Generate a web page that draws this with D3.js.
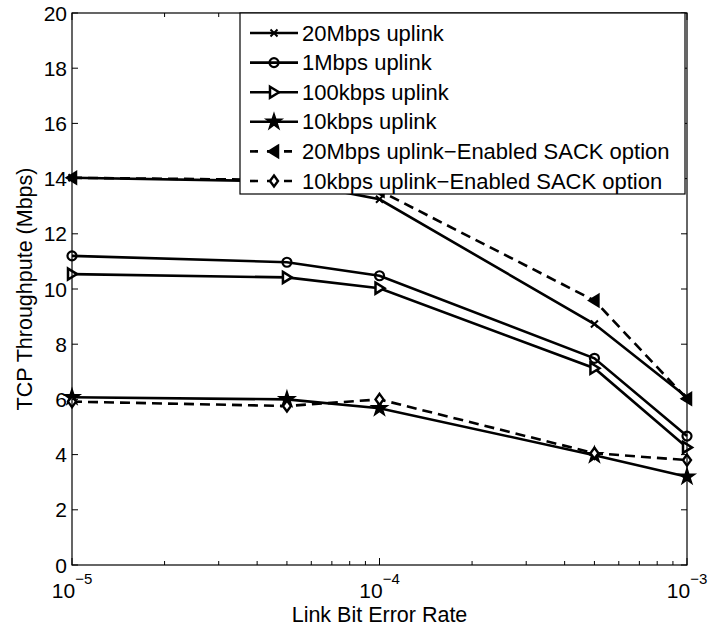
<!DOCTYPE html>
<html>
<head>
<meta charset="utf-8">
<script src="https://cdn.jsdelivr.net/npm/d3@7"></script>
<style>
    body { margin: 0; background: #fff; }
    text { font-family: "Liberation Sans", Arial, sans-serif; fill: #000; }
</style>
</head>
<body>
<div id="chart"></div>
<script>
// Link bit error rates (x axis)
var berValues = [1e-5, 5e-5, 1e-4, 5e-4, 1e-3];

// TCP throughput (Mbps) per series
var up20M = [14.03, 13.9, 13.25, 8.73, 6.08];
var up1M = [11.2, 10.97, 10.48, 7.49, 4.67];
var up100k = [10.54, 10.42, 10.03, 7.13, 4.26];
var up10k = [6.08, 6.0, 5.68, 3.98, 3.2];
var sack20M = [14.03, 13.95, 13.56, 9.58, 6.02];
var sack10k = [5.92, 5.76, 6.0, 4.05, 3.8];

var seriesNames = [
    "20Mbps uplink",
    "1Mbps uplink",
    "100kbps uplink",
    "10kbps uplink",
    "20Mbps uplink\u2212Enabled SACK option",
    "10kbps uplink\u2212Enabled SACK option"
];

var yTicks = [0, 2, 4, 6, 8, 10, 12, 14, 16, 18, 20];
var xTickExps = [-5, -4, -3];

function init() {
    var w = 709;
    var h = 628;
    var left = 72, right = 687, top = 13, bottom = 565;

    var series = [
        { name: seriesNames[0], values: up20M, marker: "x", dashed: false },
        { name: seriesNames[1], values: up1M, marker: "o", dashed: false },
        { name: seriesNames[2], values: up100k, marker: ">", dashed: false },
        { name: seriesNames[3], values: up10k, marker: "p", dashed: false },
        { name: seriesNames[4], values: sack20M, marker: "<", dashed: true },
        { name: seriesNames[5], values: sack10k, marker: "d", dashed: true }
    ];

    var xScale = d3.scaleLog().domain([1e-5, 1e-3]).range([left, right]);
    var yScale = d3.scaleLinear().domain([0, 20]).range([bottom, top]);

    var svg = d3.select("#chart")
        .append("svg")
        .attr("width", w)
        .attr("height", h);

    svg.append("rect")
        .attr("width", w).attr("height", h)
        .attr("fill", "#fff");

    // draws one marker shape centred at 0,0
    function drawMarker(g, type) {
        if (type === "x") {
            g.append("path")
                .attr("d", "M-3.5,-3.5L3.5,3.5M-3.5,3.5L3.5,-3.5")
                .attr("stroke", "#000").attr("stroke-width", 2).attr("fill", "none");
        } else if (type === "o") {
            g.append("circle").attr("r", 4.5)
                .attr("stroke", "#000").attr("stroke-width", 2.2).attr("fill", "none");
        } else if (type === ">") {
            g.append("path").attr("d", "M-4,-5.5L5,0L-4,5.5Z")
                .attr("stroke", "#000").attr("stroke-width", 2.5).attr("fill", "#fff");
        } else if (type === "<") {
            g.append("path").attr("d", "M4,-5.5L-5,0L4,5.5Z")
                .attr("stroke", "#000").attr("stroke-width", 2.5).attr("fill", "#000");
        } else if (type === "p") {
            g.append("path")
                .attr("d", d3.symbol().type(d3.symbolStar).size(75)())
                .attr("stroke", "#000").attr("stroke-width", 1.5).attr("fill", "#000");
        } else if (type === "d") {
            g.append("path").attr("d", "M0,-5.5L4,0L0,5.5L-4,0Z")
                .attr("stroke", "#000").attr("stroke-width", 2.4).attr("fill", "#fff");
        }
    }

    // series lines
    var line = d3.line()
        .x(function(d, i) { return xScale(berValues[i]); })
        .y(function(d) { return yScale(d); });

    series.forEach(function(s) {
        svg.append("path")
            .datum(s.values)
            .attr("d", line)
            .attr("fill", "none")
            .attr("stroke", "#000")
            .attr("stroke-width", 2.6)
            .attr("stroke-dasharray", s.dashed ? "10,6" : null);

        s.values.forEach(function(v, i) {
            var g = svg.append("g")
                .attr("transform", "translate(" + xScale(berValues[i]) + "," + yScale(v) + ")");
            drawMarker(g, s.marker);
        });
    });

    // axes box
    svg.append("rect")
        .attr("x", left).attr("y", top)
        .attr("width", right - left).attr("height", bottom - top)
        .attr("fill", "none").attr("stroke", "#000").attr("stroke-width", 1.2);

    // y ticks, inside on both sides
    yTicks.forEach(function(t) {
        var y = yScale(t);
        svg.append("line").attr("x1", left).attr("x2", left + 6).attr("y1", y).attr("y2", y)
            .attr("stroke", "#000");
        svg.append("line").attr("x1", right).attr("x2", right - 6).attr("y1", y).attr("y2", y)
            .attr("stroke", "#000");
        svg.append("text")
            .attr("x", left - 5)
            .attr("y", y + 7.5)
            .attr("text-anchor", "end")
            .attr("font-size", "21px")
            .text(t);
    });

    // x ticks: majors and log minors
    var minors = [];
    [1e-5, 1e-4].forEach(function(base) {
        for (var k = 2; k <= 9; k++) minors.push(base * k);
    });
    minors.forEach(function(t) {
        var x = xScale(t);
        svg.append("line").attr("x1", x).attr("x2", x).attr("y1", bottom).attr("y2", bottom - 4)
            .attr("stroke", "#000");
        svg.append("line").attr("x1", x).attr("x2", x).attr("y1", top).attr("y2", top + 4)
            .attr("stroke", "#000");
    });
    xTickExps.forEach(function(e) {
        var x = xScale(Math.pow(10, e));
        svg.append("line").attr("x1", x).attr("x2", x).attr("y1", bottom).attr("y2", bottom - 7)
            .attr("stroke", "#000");
        svg.append("line").attr("x1", x).attr("x2", x).attr("y1", top).attr("y2", top + 7)
            .attr("stroke", "#000");
        var t = svg.append("text")
            .attr("x", x)
            .attr("y", 598)
            .attr("text-anchor", "middle")
            .attr("font-size", "21px");
        t.append("tspan").text("10");
        t.append("tspan").attr("dy", -14).attr("font-size", "15px").text("\u2212" + (-e));
    });

    // axis labels
    svg.append("text")
        .attr("x", (left + right) / 2)
        .attr("y", 622)
        .attr("text-anchor", "middle")
        .attr("font-size", "21.5px")
        .text("Link Bit Error Rate");

    svg.append("text")
        .attr("transform", "translate(32," + ((top + bottom) / 2) + ") rotate(-90)")
        .attr("text-anchor", "middle")
        .attr("font-size", "21.5px")
        .text("TCP Throughpute (Mbps)");

    // legend
    var lg = svg.append("g");
    lg.append("rect")
        .attr("x", 240).attr("y", 13)
        .attr("width", 445).attr("height", 181)
        .attr("fill", "#fff").attr("stroke", "#000").attr("stroke-width", 1.2);

    series.forEach(function(s, i) {
        var y = 33 + i * 29.6;
        lg.append("line")
            .attr("x1", 250).attr("x2", 298).attr("y1", y).attr("y2", y)
            .attr("stroke", "#000").attr("stroke-width", 2.6)
            .attr("stroke-dasharray", s.dashed ? "8,9" : null);
        var g = lg.append("g").attr("transform", "translate(274," + y + ")");
        drawMarker(g, s.marker);
        lg.append("text")
            .attr("x", 302)
            .attr("y", y + 7.5)
            .attr("font-size", "22px")
            .text(s.name);
    });
}

window.onload = init;
</script>
</body>
</html>
